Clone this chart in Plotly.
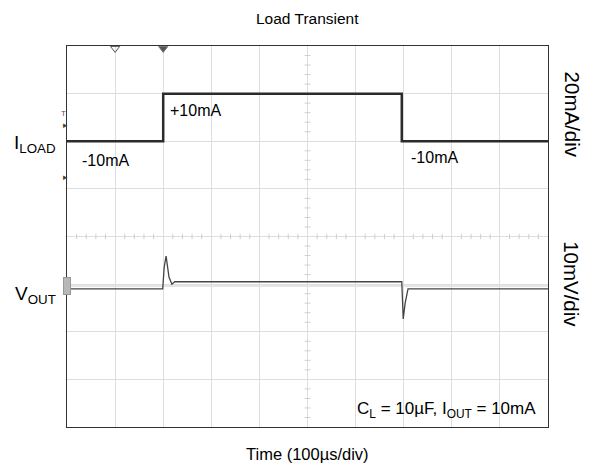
import plotly.graph_objects as go

# time axis in microseconds (100 us/div, 10 divisions)
time_current = [0, 200, 200, 696, 696, 1000]
i_load_ma = [-10, -10, 10, 10, -10, -10]

time_vout = [0, 199, 202, 206, 212, 218, 224, 694, 696, 699, 703, 709, 1000]
vout_mv = [0, 0, 4.5, 6.9, 2.5, 1.0, 1.5, 1.5, 1.5, -6.3, -3.0, 0, 0]

FONT = "Liberation Sans, Arial, sans-serif"
GRID = "#dedede"

fig = go.Figure()

# current trace (20mA/div) on the primary y axis
fig.add_trace(go.Scatter(
    x=time_current, y=i_load_ma, mode="lines",
    line=dict(color="#2b2b2b", width=2.5),
    showlegend=False, hoverinfo="skip"
))

# output voltage (10mV/div) on an overlaid axis
fig.add_trace(go.Scatter(
    x=time_vout, y=vout_mv, mode="lines", yaxis="y2",
    line=dict(color="#444444", width=1.3),
    showlegend=False, hoverinfo="skip"
))

# trigger markers along the top edge
fig.add_trace(go.Scatter(
    x=[100, 200], y=[29, 29], mode="markers", cliponaxis=False,
    marker=dict(symbol=["triangle-down-open", "triangle-down"], size=8,
                color="#555555", line=dict(color="#777777", width=1)),
    showlegend=False, hoverinfo="skip"
))

# graticule minor ticks on the centre lines
shapes = []
for k in range(1, 50):
    t = k * 20
    if t % 100 == 0:
        continue
    shapes.append(dict(type="line", xref="x", yref="paper", x0=t, x1=t,
                       y0=0.5 - 0.007, y1=0.5 + 0.007,
                       line=dict(color="#cfcfcf", width=1)))
for k in range(1, 40):
    if k % 5 == 0:
        continue
    yy = k / 40
    shapes.append(dict(type="line", xref="paper", yref="paper", x0=0.5 - 0.006, x1=0.5 + 0.006,
                       y0=yy, y1=yy, line=dict(color="#cfcfcf", width=1)))
# faint reference level for Vout
shapes.append(dict(type="line", xref="paper", yref="y2", x0=0, x1=1, y0=0.6, y1=0.6,
                   line=dict(color="#cccccc", width=1), layer="below"))

annotations = [
    dict(x=0.5, y=1.0, xref="paper", yref="paper", yshift=38, text="Load Transient",
         showarrow=False, font=dict(size=15.5, color="black")),
    dict(x=0.5, y=0, xref="paper", yref="paper", yshift=-38, text="Time (100µs/div)",
         showarrow=False, font=dict(size=16.5, color="black")),
    dict(x=210, y=10, xref="x", yref="y", text="+10mA", showarrow=False,
         xanchor="left", yanchor="top", yshift=-6, font=dict(size=16, color="black")),
    dict(x=28, y=-10, xref="x", yref="y", text="-10mA", showarrow=False,
         xanchor="left", yanchor="top", yshift=-9, font=dict(size=16, color="black")),
    dict(x=712, y=-10, xref="x", yref="y", text="-10mA", showarrow=False,
         xanchor="left", yanchor="top", yshift=-6, font=dict(size=16, color="black")),
    dict(x=0, y=-10, xref="paper", yref="y", text="I<sub>LOAD</sub>", showarrow=False,
         xanchor="right", xshift=-9, yshift=-3, font=dict(size=19, color="black")),
    dict(x=0, y=-1, xref="paper", yref="y2", text="V<sub>OUT</sub>", showarrow=False,
         xanchor="right", xshift=-9, yshift=-1, font=dict(size=19, color="black")),
    dict(x=1, y=0.82, xref="paper", yref="paper", text="20mA/div", showarrow=False,
         textangle=90, xanchor="center", yanchor="middle", xshift=24,
         font=dict(size=20.5, color="black")),
    dict(x=1, y=0.375, xref="paper", yref="paper", text="10mV/div", showarrow=False,
         textangle=90, xanchor="center", yanchor="middle", xshift=24,
         font=dict(size=20.5, color="black")),
    dict(x=0.979, y=0.045, xref="paper", yref="paper", xanchor="right", yanchor="middle",
         text="C<sub>L</sub> = 10µF, I<sub>OUT</sub> = 10mA", showarrow=False,
         font=dict(size=17, color="black")),
    dict(x=0, y=0.84, xref="paper", yref="paper", text="T", showarrow=False,
         xanchor="right", xshift=1, font=dict(size=8, color="#555555")),
    dict(x=0, y=0.81, xref="paper", yref="paper", text="▸", showarrow=False,
         xanchor="right", xshift=3, font=dict(size=9, color="#444444")),
    dict(x=0, y=0.655, xref="paper", yref="paper", text="▸", showarrow=False,
         xanchor="right", xshift=3, font=dict(size=9, color="#444444")),
    dict(x=0, y=0.6, xref="paper", yref="y2", text=" ", showarrow=False,
         xanchor="center", bgcolor="#b8b8b8", bordercolor="#999999", borderwidth=1,
         width=4, height=14, font=dict(size=8)),
]

# page body adds an 8px offset, so margins are trimmed to land the plot where the reference has it
fig.update_layout(
    width=595, height=472,
    margin=dict(l=59, r=55, t=38, b=53, autoexpand=False),
    paper_bgcolor="white", plot_bgcolor="white",
    font=dict(family=FONT, color="black"),
    xaxis=dict(range=[0, 1000], tick0=0, dtick=100, showgrid=True, gridcolor=GRID,
               gridwidth=1, showticklabels=False, ticks="", zeroline=False,
               showline=True, linecolor="#333333", linewidth=1, mirror=True, fixedrange=True),
    yaxis=dict(range=[-130, 30], tick0=-130, dtick=20, showgrid=True, gridcolor=GRID,
               gridwidth=1, showticklabels=False, ticks="", zeroline=False,
               showline=True, linecolor="#333333", linewidth=1, mirror=True, fixedrange=True),
    yaxis2=dict(range=[-29, 51], overlaying="y", showgrid=False, showticklabels=False,
                ticks="", zeroline=False, showline=False, fixedrange=True),
    shapes=shapes,
    annotations=annotations,
)

fig.write_html("out.html")
